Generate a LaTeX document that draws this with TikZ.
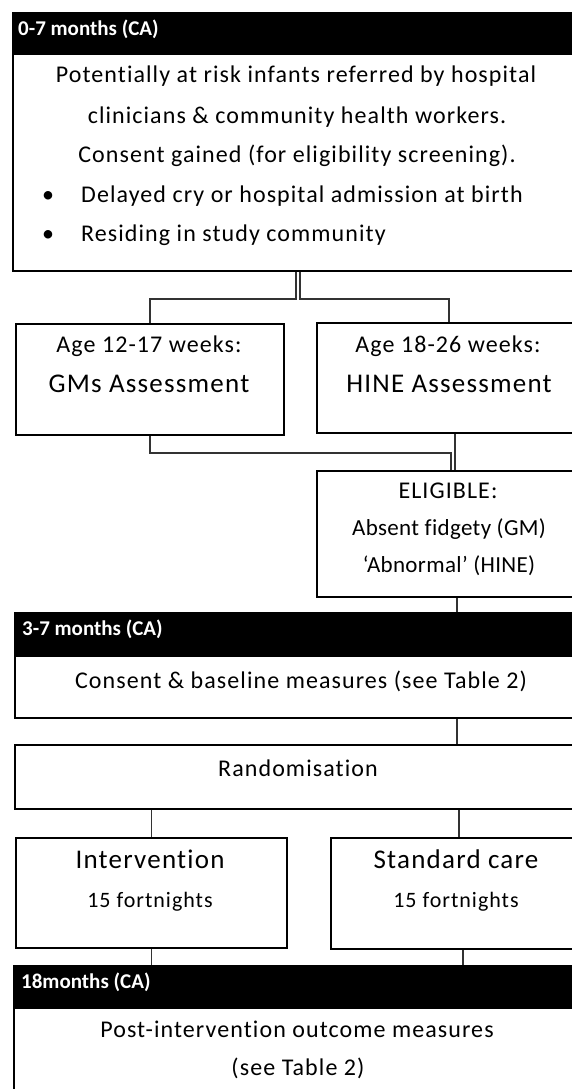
\documentclass[tikz,border=0pt]{standalone}
\usepackage{fontspec}
\setmainfont{Carlito}[LetterSpace=4.5,Ligatures=NoCommon]
\newfontfamily\tightfont{Carlito}[LetterSpace=1.5,Ligatures=NoCommon]
\newfontfamily\hdrfont{Carlito}[Ligatures=NoCommon]
\begin{document}
\begin{tikzpicture}[x=1pt,y=-1pt,
  box/.style={draw=black,line width=1.9pt,fill=white,inner sep=0pt,anchor=north west},
  hdr/.style={draw=black,fill=black,line width=1.9pt,inner sep=0pt,anchor=north west},
  conn/.style={draw=black!80,line width=1.5pt},
  txt/.style={inner sep=0pt,yshift=-3pt,text height=0.7em,text depth=0.2em,font=\fontsize{24}{28}\selectfont},
  mid/.style={inner sep=0pt,yshift=-3pt,text height=0.7em,text depth=0.2em,font=\fontsize{22}{26}\selectfont},
  big/.style={inner sep=0pt,yshift=-3pt,text height=0.7em,text depth=0.2em,font=\fontsize{27}{31}\selectfont},
  sml/.style={inner sep=0pt,yshift=-3pt,text height=0.7em,text depth=0.2em,font=\tightfont\fontsize{23}{27}\selectfont},
  htxt/.style={inner sep=0pt,anchor=west,text=white,text height=0.7em,text depth=0.2em,font=\hdrfont\bfseries\fontsize{21}{24}\selectfont}]
\clip (0,0) rectangle (572,1089);
\fill[white] (0,0) rectangle (572,1089);

% boxes
\node[hdr, minimum width=570pt, minimum height=41pt] (hdr1) at (12,12) {};
\node[box, minimum width=570pt, minimum height=217pt] (body1) at (12,53) {};
\node[box, minimum width=268pt, minimum height=111pt] (gms) at (15,323) {};
\node[box, minimum width=264pt, minimum height=110pt] (hine) at (316,322) {};
\node[box, minimum width=264pt, minimum height=126pt] (elig) at (316,470) {};
\node[hdr, minimum width=568pt, minimum height=43pt] (hdr2) at (14,612) {};
\node[box, minimum width=568pt, minimum height=62pt] (body2) at (14,655) {};
\node[box, minimum width=568pt, minimum height=64pt] (rand) at (14,744) {};
\node[box, minimum width=271pt, minimum height=110pt] (intv) at (15,837) {};
\node[box, minimum width=250pt, minimum height=111pt] (std) at (330,837) {};
\node[hdr, minimum width=569pt, minimum height=42pt] (hdr3) at (13,965) {};
\node[box, minimum width=569pt, minimum height=110pt] (body3) at (13,1007) {};

% connectors
\draw[conn] ([xshift=-2pt]body1.south) -- ++(0,27) -| (gms.north);
\draw[conn] ([xshift=2pt]body1.south) -- ++(0,27) -| (hine.north);
\draw[conn] (gms.south) -- ++(0,17) -| ([xshift=2pt]elig.north);
\draw[conn] ([xshift=6pt]hine.south) -- ([xshift=6pt]elig.north);
\draw[conn] ([xshift=8pt]elig.south) -- ([xshift=8pt]elig.south |- hdr2.north);
\draw[conn] ([xshift=8pt]elig.south |- body2.south) -- ([xshift=8pt]elig.south |- rand.north);
\draw[conn] (intv.north |- rand.south) -- (intv.north);
\draw[conn] ([xshift=3pt]std.north |- rand.south) -- ([xshift=3pt]std.north);
\draw[conn] (intv.south) -- (intv.south |- hdr3.north);
\draw[conn] ([xshift=7pt]std.south) -- ([xshift=7pt]std.south |- hdr3.north);

% header texts
\node[htxt] (h1) at (18,33) {0-7 months (CA)};
\node[htxt] (h2) at (22,633) {3-7 months (CA)};
\node[htxt] (h3) at (21,986) {18months (CA)};

% top box texts
\node[txt] (t1) at (296,77) {Potentially at risk infants referred by hospital};
\node[txt] (t2) at (297,118) {clinicians \& community health workers.};
\node[txt] (t3) at (297,157) {Consent gained (for eligibility screening).};
\node[txt] (bu1) at (48,197) {\textbullet};
\node[txt,anchor=west] (b1) at (81,197) {Delayed cry or hospital admission at birth};
\node[txt] (bu2) at (48,236) {\textbullet};
\node[txt,anchor=west] (b2) at (81,236) {Residing in study community};

% assessments
\node[txt] (g1) at (149,347) {Age 12-17 weeks:};
\node[big] (g2) at (149,387) {GMs Assessment};
\node[txt] (n1) at (448,347) {Age 18-26 weeks:};
\node[big] (n2) at (449,387) {HINE Assessment};

% eligible
\node[txt] (e1) at (448,493) {ELIGIBLE:};
\node[sml] (e2) at (449,530) {Absent fidgety (GM)};
\node[sml] (e3) at (449,567) {‘Abnormal’ (HINE)};

% consent
\node[txt] (c1) at (301,683) {Consent \& baseline measures (see Table 2)};
\node[txt] (r1) at (298,771) {Randomisation};

% arms
\node[big] (i1) at (150,863) {Intervention};
\node[mid] (i2) at (150,902) {15 fortnights};
\node[big] (s1) at (456,863) {Standard care};
\node[mid] (s2) at (456,902) {15 fortnights};

% outcome
\node[txt] (o1) at (297,1032) {Post-intervention outcome measures};
\node[txt] (o2) at (298,1070) {(see Table 2)};
\end{tikzpicture}
\end{document}
